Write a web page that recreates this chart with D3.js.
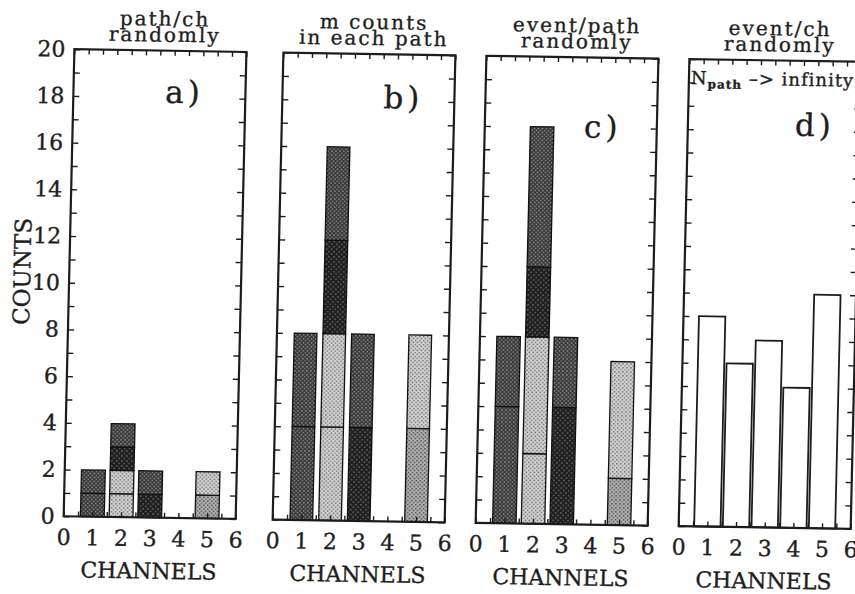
<!DOCTYPE html>
<html>
<head>
<meta charset="utf-8">
<script src="https://cdn.jsdelivr.net/npm/d3@7/dist/d3.min.js"></script>
<style>
  html, body { margin: 0; padding: 0; background: #fff; }
  svg { display: block; }
  text { font-family: "DejaVu Serif", "Liberation Serif", serif; fill: #1e1e1e; stroke: #1e1e1e; stroke-width: 0.35px; }
</style>
</head>
<body>
<svg id="chart" width="855" height="594"></svg>
<script>
// ---- axis ticks ----
const xTickLabels = [0, 1, 2, 3, 4, 5, 6];
const yTickLabels = [0, 2, 4, 6, 8, 10, 12, 14, 16, 18, 20];
const xDomain = [0, 6];
const yDomain = [0, 20];

// ---- panel captions ----
const panelTitles = [
  ["path/ch", "randomly"],
  ["m counts", "in each path"],
  ["event/path", "randomly"],
  ["event/ch", "randomly"]
];
const panelTags = ["a)", "b)", "c)", "d)"];
const yAxisTitle = "COUNTS";
const xAxisTitle = "CHANNELS";

// ---- stacked panels a-c: channels with contributions from each path ----
const stackChannels = [1, 2, 3, 5];
// shading of each path's segment (same order in all three panels)
const pathShades = [["dk", "dk"], ["lt", "lt", "vd", "dk"], ["vd", "dk"], ["md", "lt"]];
// a) one path per channel chosen randomly
const pathChSizes = [[1, 1], [1, 1, 1, 1], [1, 1], [1, 1]];
// b) m counts in each path
const mCountSizes = [[4, 4], [4, 4, 4, 4], [4, 4], [4, 4]];
// c) events distributed per path randomly
const eventPathSizes = [[5, 3], [3, 5, 3, 6], [5, 3], [2, 5]];

// ---- panel d: events per channel randomly ----
const eventChChannels = [1, 2, 3, 4, 5];
const eventChCounts = [9, 7, 8, 6, 10];

// ---- layout ----
const layout = { left: [69, 278, 481, 684], width: 172, top: 55, bottom: 522 };
const barWidths = [0.83, 0.79, 0.82, 0.92];
const tagOffsets = [[111, 41], [121, 43], [118, 69], [127, 64]];
const ink = "#1c1c1c";

const svg = d3.select("#chart");
const defs = svg.append("defs");

// dotted screen tones
const tones = {
  dk: { base: "#363636", dot: "#8a8a8a", tile: 4, size: 1.5 },
  vd: { base: "#202020", dot: "#5a5a5a", tile: 5, size: 1.6 },
  lt: { base: "#d2d2d2", dot: "#6e6e6e", tile: 4, size: 1.4 },
  md: { base: "#b2b2b2", dot: "#505050", tile: 4, size: 1.5 }
};
Object.entries(tones).forEach(([key, t]) => {
  const p = defs.append("pattern")
    .attr("id", "tone-" + key)
    .attr("patternUnits", "userSpaceOnUse")
    .attr("width", t.tile).attr("height", t.tile);
  p.append("rect").attr("width", t.tile).attr("height", t.tile).attr("fill", t.base);
  p.append("rect").attr("x", 0).attr("y", 0).attr("width", t.size).attr("height", t.size).attr("fill", t.dot);
  p.append("rect").attr("x", t.tile / 2).attr("y", t.tile / 2).attr("width", t.size).attr("height", t.size).attr("fill", t.dot);
});

// the printed sheet sits slightly turned and skewed
const skewX = -0.023, skewY = 0.016, cx0 = 430, cy0 = 290;
const root = svg.append("g")
  .attr("transform", `matrix(1 ${skewY} ${skewX} 1 ${-skewX * cy0} ${-skewY * cx0})`);

function styleAxis(sel) {
  sel.select(".domain").remove();
  sel.selectAll(".tick line").attr("stroke", ink).attr("stroke-width", 1.4);
  sel.selectAll(".tick text")
    .attr("font-family", "'DejaVu Serif', serif")
    .attr("font-size", 22)
    .attr("fill", ink);
}

function drawPanel(i, drawBars) {
  const left = layout.left[i];
  const right = left + layout.width;
  const x = d3.scaleLinear().domain(xDomain).range([left, right]);
  const y = d3.scaleLinear().domain(yDomain).range([layout.bottom, layout.top]);
  const g = root.append("g");

  drawBars(g, x, y, barWidths[i]);

  // frame
  g.append("rect")
    .attr("x", left).attr("y", layout.top)
    .attr("width", layout.width).attr("height", layout.bottom - layout.top)
    .attr("fill", "none").attr("stroke", ink).attr("stroke-width", 2.2);

  const yTicks = d3.range(yDomain[0], yDomain[1] + 1, 1);
  const xTicks = d3.range(xDomain[0], xDomain[1] + 0.01, 0.5);

  g.append("g").attr("transform", `translate(${left},0)`)
    .call(d3.axisLeft(y).tickValues(yTicks).tickSizeInner(-6).tickSizeOuter(0).tickPadding(9)
      .tickFormat(d => (i === 0 && yTickLabels.includes(d)) ? d : ""))
    .call(styleAxis);

  g.append("g").attr("transform", `translate(${right},0)`)
    .call(d3.axisRight(y).tickValues(yTicks).tickSizeInner(-6).tickSizeOuter(0).tickFormat(""))
    .call(styleAxis);

  g.append("g").attr("transform", `translate(0,${layout.top})`)
    .call(d3.axisTop(x).tickValues(xTicks).tickSizeInner(-5).tickSizeOuter(0).tickFormat(""))
    .call(styleAxis);

  g.append("g").attr("transform", `translate(0,${layout.bottom})`)
    .call(d3.axisBottom(x).tickValues(xTicks).tickSizeInner(-5).tickSizeOuter(0).tickPadding(13)
      .tickFormat(d => xTickLabels.includes(d) ? d : ""))
    .call(styleAxis);

  // titles
  const cx = (left + right) / 2 + 4;
  panelTitles[i].forEach((line, k) => {
    g.append("text")
      .attr("x", cx).attr("y", layout.top - 25 + k * 16)
      .attr("text-anchor", "middle")
      .attr("font-size", 20)
      .attr("letter-spacing", 2)
      .text(line);
  });

  g.append("text")
    .attr("x", left + tagOffsets[i][0]).attr("y", layout.top + tagOffsets[i][1])
    .attr("text-anchor", "middle").attr("dominant-baseline", "central")
    .attr("font-size", 31).attr("letter-spacing", 4)
    .text(panelTags[i]);

  g.append("text")
    .attr("x", (left + right) / 2).attr("y", layout.bottom + 61)
    .attr("text-anchor", "middle")
    .attr("font-size", 22)
    .text(xAxisTitle);

  return { g, x, y };
}

function stackedBars(sizes) {
  return (g, x, y, bw) => {
    const segs = stackChannels.flatMap((ch, k) => {
      const tops = Array.from(d3.cumsum(sizes[k]));
      return sizes[k].map((v, j) => ({ ch, y0: tops[j] - v, y1: tops[j], shade: pathShades[k][j] }));
    });
    g.selectAll("rect.seg").data(segs).join("rect")
      .attr("class", "seg")
      .attr("x", d => x(d.ch - bw / 2))
      .attr("width", d => x(d.ch + bw / 2) - x(d.ch - bw / 2))
      .attr("y", d => y(d.y1))
      .attr("height", d => y(d.y0) - y(d.y1))
      .attr("fill", d => `url(#tone-${d.shade})`)
      .attr("stroke", "#111").attr("stroke-width", 1.3);
  };
}

drawPanel(0, stackedBars(pathChSizes));
drawPanel(1, stackedBars(mCountSizes));
drawPanel(2, stackedBars(eventPathSizes));
const pd = drawPanel(3, (g, x, y, bw) => {
  g.selectAll("rect.evt").data(eventChChannels.map((ch, k) => ({ ch, v: eventChCounts[k] }))).join("rect")
    .attr("class", "evt")
    .attr("x", d => x(d.ch - bw / 2))
    .attr("width", d => x(d.ch + bw / 2) - x(d.ch - bw / 2))
    .attr("y", d => y(d.v))
    .attr("height", d => y(0) - y(d.v))
    .attr("fill", "#fff")
    .attr("stroke", ink).attr("stroke-width", 1.8);
});

// limit note inside panel d
const note = pd.g.append("text")
  .attr("x", layout.left[3] + 2).attr("y", layout.top + 25)
  .attr("font-size", 18).attr("letter-spacing", 1);
note.append("tspan").text("N");
note.append("tspan").attr("font-size", 12).attr("font-weight", "bold").attr("dy", 4).text("path");
note.append("tspan").attr("dy", -4).text(" \u2013> infinity");

// shared y-axis title
root.append("text")
  .attr("transform", `translate(22,278) rotate(-90)`)
  .attr("text-anchor", "middle").attr("dominant-baseline", "central")
  .attr("font-size", 23)
  .text(yAxisTitle);
</script>
</body>
</html>
